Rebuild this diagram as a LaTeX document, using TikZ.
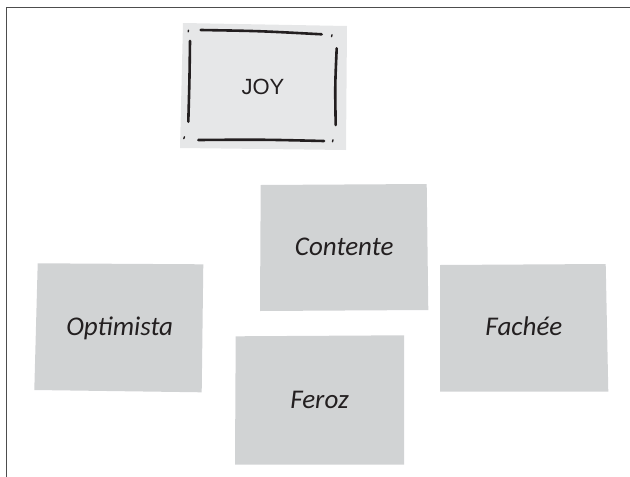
\documentclass[tikz,border=0pt]{standalone}
\usepackage{fontspec}
\setmainfont{Liberation Sans}
\newfontfamily\handfont{Carlito}
\definecolor{joyfill}{HTML}{E6E7E8}
\definecolor{cardfill}{HTML}{D1D3D4}
\definecolor{inkc}{HTML}{231F20}
\definecolor{framec}{HTML}{4D4D4D}
\tikzset{
  card/.style={fill=cardfill, draw=none},
  joycard/.style={fill=joyfill, draw=none},
  brush/.style={draw=inkc, line width=2.6pt, line cap=round},
  tick/.style={draw=inkc, line width=1.4pt, line cap=round},
  emolabel/.style={anchor=base, inner sep=0pt, text=inkc, font=\handfont\itshape\fontsize{27}{30}\selectfont},
  joylabel/.style={anchor=base, inner sep=0pt, text=inkc, font=\fontsize{22}{26}\selectfont},
  framel/.style={draw=framec, line width=1.2pt}
}
\begin{document}
\begin{tikzpicture}[x=1pt, y=-1pt]
\useasboundingbox (0,0) rectangle (630,477);
% frame
\coordinate (fbl) at (6.5,477);
\coordinate (ftl) at (6.5,7.5);
\coordinate (ftr) at (630,7.5);
\draw[framel] (fbl) -- (ftl) -- (ftr);

% JOY card
\path[joycard] (183,23) -- (347,26) -- (346,150) -- (180,148) -- cycle;
\draw[brush] (200.7,30) .. controls (260,31) .. (321.7,34.3);
\draw[brush] (190,41) .. controls (189.5,80) .. (188.3,121.7);
\draw[brush] (336.7,48.3) .. controls (335,86) .. (335.7,125);
\draw[brush] (198.3,140) .. controls (260,139.5) .. (324,141);
\draw[tick] (188.5,30.2) -- (188.2,31.8);
\draw[tick] (332,34.8) -- (331.5,36.6);
\draw[tick] (184.5,136.8) -- (183.8,138.6);
\draw[tick] (333,139.8) -- (332.5,141.8);
\node[joylabel] (joy) at (262.9,94.3) {JOY};

% Contente
\path[card] (260.7,185) -- (426.7,184) -- (428.3,310) -- (260,311) -- cycle;
\node[emolabel] (contente) at (344.2,255) {Contente};

% Optimista
\path[card] (37.7,263.3) -- (203.3,264.3) -- (201.7,392.3) -- (34.3,390) -- cycle;
\node[emolabel] (optimista) at (119.7,335) {Optimista};

% Fachee
\path[card] (440,265) -- (605.7,264) -- (608.3,391.7) -- (440,391.7) -- cycle;
\node[emolabel] (fachee) at (523.9,335.7) {Fachée};

% Feroz
\path[card] (235.7,336.3) -- (404,335.3) -- (404,464.7) -- (235,464.7) -- cycle;
\node[emolabel] (feroz) at (319.5,408.7) {Feroz};
\end{tikzpicture}
\end{document}
